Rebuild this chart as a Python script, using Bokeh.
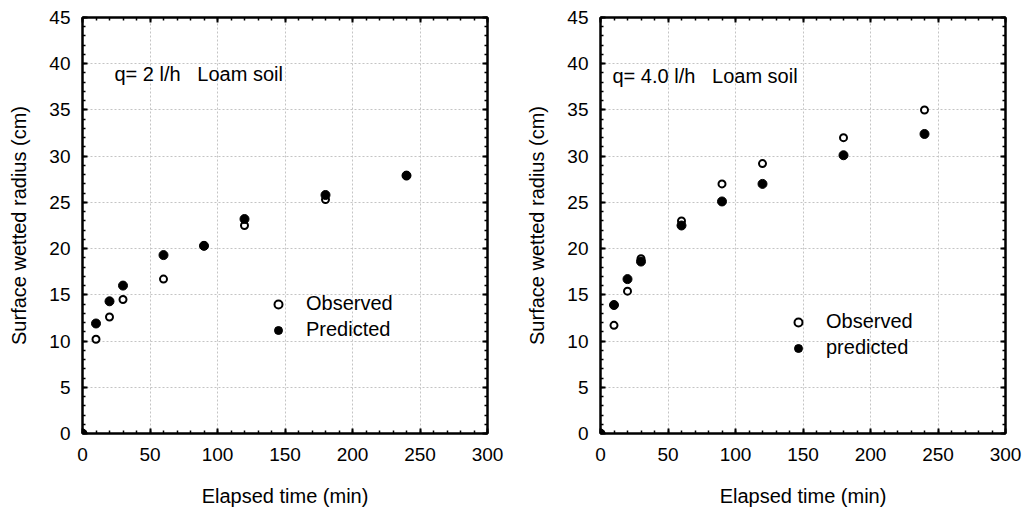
from bokeh.plotting import figure
from bokeh.models import (Range1d, LinearAxis, Legend, LegendItem, Label,
                          SingleIntervalTicker, CustomJSTickFormatter)
from bokeh.layouts import row
from bokeh.embed import file_html
from bokeh.resources import INLINE

# ---- data ----
time_min = [0, 10, 20, 30, 60, 90, 120, 180, 240]

obs_2lh = [0, 10.2, 12.6, 14.5, 16.7, 20.3, 22.5, 25.3, 27.9]
pred_2lh = [0, 11.9, 14.3, 16.0, 19.3, 20.3, 23.2, 25.8, 27.9]

obs_4lh = [0, 11.7, 15.4, 18.9, 23.0, 27.0, 29.2, 32.0, 35.0]
pred_4lh = [0, 13.9, 16.7, 18.6, 22.5, 25.1, 27.0, 30.1, 32.4]

x_label = "Elapsed time (min)"
y_label = "Surface wetted radius (cm)"
FONT = "Liberation Sans"
NB = "\u00a0"


def style_axis(ax, show_labels=True, is_x=True):
    ax.axis_line_width = 2
    ax.axis_line_color = "black"
    ax.major_tick_in = 5
    ax.major_tick_out = 0
    ax.minor_tick_in = 3
    ax.minor_tick_out = 0
    ax.major_tick_line_width = 2
    ax.minor_tick_line_width = 1.5
    ax.major_label_text_font = FONT
    ax.major_label_text_color = "black"
    ax.axis_label_text_font = FONT
    ax.axis_label_text_font_style = "normal"
    ax.axis_label_text_font_size = "20px"
    ax.axis_label_text_color = "black"
    if show_labels:
        ax.major_label_text_font_size = "19px"
        if is_x:
            ax.major_label_standoff = 14
            ax.axis_label_standoff = 21
        else:
            ax.major_label_standoff = 12
            ax.axis_label_standoff = 16
    else:
        ax.formatter = CustomJSTickFormatter(code="return ''")
        ax.major_label_text_font_size = "10px"
        ax.major_label_standoff = 0


def make_panel(obs, pred, note, names, left, right, leg_loc):
    p = figure(width=512, height=510, output_backend="svg", toolbar_location=None,
               x_range=Range1d(0, 300), y_range=Range1d(0, 45),
               min_border_left=left, min_border_right=right,
               min_border_top=17, min_border_bottom=77)
    p.outline_line_color = "black"
    p.outline_line_width = 2
    p.background_fill_color = "white"
    p.border_fill_color = "white"

    xt = SingleIntervalTicker(interval=50, num_minor_ticks=5)
    yt = SingleIntervalTicker(interval=5, num_minor_ticks=5)
    p.xaxis.ticker = xt
    p.yaxis.ticker = yt
    p.xaxis.axis_label = x_label
    p.yaxis.axis_label = y_label
    style_axis(p.xaxis[0], True, True)
    style_axis(p.yaxis[0], True, False)

    top = LinearAxis(ticker=SingleIntervalTicker(interval=50, num_minor_ticks=5))
    rgt = LinearAxis(ticker=SingleIntervalTicker(interval=5, num_minor_ticks=5))
    style_axis(top, False)
    style_axis(rgt, False)
    p.add_layout(top, "above")
    p.add_layout(rgt, "right")

    p.xgrid.ticker = xt
    p.ygrid.ticker = yt
    for g in (p.xgrid[0], p.ygrid[0]):
        g.grid_line_color = "#c4c4c4"
        g.grid_line_dash = "2 2"
        g.grid_line_width = 1

    r_obs = p.scatter(time_min, obs, size=7, marker="circle", fill_color="white",
                      line_color="black", line_width=2)
    r_pred = p.scatter(time_min, pred, size=9, marker="circle", fill_color="black",
                       line_color="black", line_width=1)

    legend = Legend(items=[LegendItem(label=names[0], renderers=[r_obs]),
                           LegendItem(label=names[1], renderers=[r_pred])],
                    location=leg_loc, orientation="vertical")
    legend.background_fill_alpha = 0
    legend.border_line_color = None
    legend.padding = 0
    legend.margin = 0
    legend.spacing = 3
    legend.glyph_width = 20
    legend.glyph_height = 20
    legend.label_height = 20
    legend.label_standoff = 18
    legend.label_text_font = FONT
    legend.label_text_font_size = "20px"
    legend.label_text_color = "black"
    p.add_layout(legend, "center")

    p.add_layout(Label(x=note[1], y=note[2], x_units="screen", y_units="screen",
                       text=note[0], text_font=FONT, text_font_size="20px",
                       text_color="black", text_baseline="middle"))
    return p


p1 = make_panel(obs_2lh, pred_2lh, ("q= 2 l/h" + NB * 3 + "Loam soil", 32, 360),
                ("Observed", "Predicted"), 82, 25, (186, 92))
p2 = make_panel(obs_4lh, pred_4lh, ("q= 4.0 l/h" + NB * 3 + "Loam soil", 12, 358),
                ("Observed", "predicted"), 88, 19, (188, 74))

layout = row(p1, p2)
open("out.html", "w").write(file_html(layout, INLINE))
